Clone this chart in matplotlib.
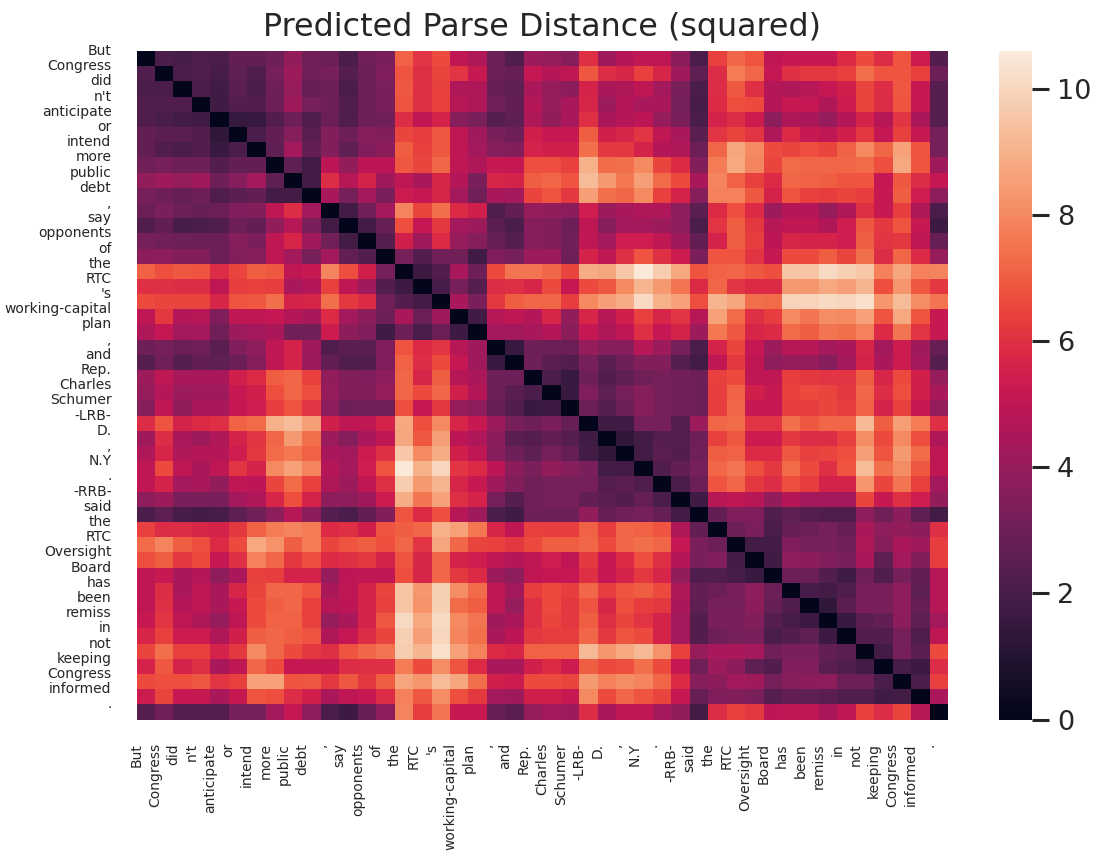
import matplotlib
matplotlib.use("Agg")
import matplotlib.pyplot as plt
import numpy as np
import seaborn as sns

tokens = ["But", "Congress", "did", "n't", "anticipate", "or", "intend", "more", "public", "debt",
          ",", "say", "opponents", "of", "the", "RTC", "'s", "working-capital", "plan", ",",
          "and", "Rep.", "Charles", "Schumer", "-LRB-", "D.", ",", "N.Y", ".", "-RRB-",
          "said", "the", "RTC", "Oversight", "Board", "has", "been", "remiss", "in", "not",
          "keeping", "Congress", "informed", "."]

# row by row
dist = [
    [0,2.1,2.0,2.2,2.1,2.7,2.7,3.0,3.9,3.1,2.9,2.1,3.1,3.3,7.1,6.1,6.6,5.0,4.6,2.9,2.2,4.1,4.0,3.6,6.0,4.2,4.7,5.0,5.0,3.7,2.1,6.4,7.2,6.8,5.0,5.2,5.2,5.2,5.8,6.6,5.9,6.8,5.3,2.3],
    [2.2,0,2.1,2.2,2.0,2.6,2.2,3.2,4.1,3.1,3.2,2.4,2.9,3.4,6.8,6.0,6.5,6.1,5.2,3.0,2.8,5.1,4.7,5.0,6.9,5.9,5.7,6.4,5.7,4.2,2.6,5.9,7.7,7.2,5.1,6.0,6.2,6.2,6.4,7.4,6.8,6.8,6.4,3.0],
    [2.1,2.1,0,2.1,1.8,2.5,2.1,3.0,4.0,2.8,2.9,2.1,2.9,3.3,6.9,6.0,6.4,4.6,4.6,2.8,2.6,4.5,4.0,3.7,5.6,4.5,4.6,5.0,4.3,3.3,2.1,5.9,6.9,6.0,4.7,4.6,4.8,5.1,5.5,6.5,5.9,6.9,5.2,2.4],
    [2.2,2.2,2.2,0,1.8,2.3,2.3,3.0,4.2,3.2,3.0,2.2,2.9,3.3,6.8,6.0,6.4,4.8,4.6,3.1,2.7,4.7,4.0,4.4,5.7,4.1,4.7,4.4,4.5,3.2,2.0,5.8,6.7,6.6,4.7,5.2,5.1,4.6,5.3,6.5,5.9,6.8,5.2,2.4],
    [2.2,2.1,1.9,1.8,0,1.5,1.6,2.3,3.0,2.2,2.9,2.2,3.0,3.1,5.9,5.0,5.6,3.6,3.3,2.4,2.6,4.6,3.9,4.4,6.0,4.5,4.7,4.9,4.0,3.3,2.1,5.6,5.9,5.3,3.8,4.6,4.5,4.0,4.7,5.6,4.8,6.1,4.5,2.4],
    [2.7,2.5,2.5,2.3,1.4,0,2.1,2.7,3.6,2.5,3.5,3.0,3.6,3.5,6.5,6.3,6.9,5.0,4.2,3.3,3.0,5.5,5.2,5.2,7.0,5.5,5.7,6.1,5.0,4.4,2.5,6.1,6.5,6.1,4.6,5.8,5.2,5.0,5.5,6.2,5.1,6.4,5.2,3.2],
    [2.7,2.2,2.1,2.3,1.6,2.1,0,2.6,4.3,2.7,3.5,2.6,3.4,3.7,7.0,6.4,6.9,5.0,4.3,3.6,3.5,5.6,5.5,5.5,7.4,6.2,6.2,5.6,4.7,4.6,3.0,7.2,8.7,8.0,6.6,6.5,6.7,6.5,7.1,8.0,7.2,8.6,6.8,3.2],
    [3.1,3.2,3.0,3.0,2.3,2.7,2.7,0,2.6,1.9,4.9,3.9,4.9,4.9,6.9,6.5,7.2,5.0,4.6,5.2,5.1,6.7,6.7,6.4,9.0,7.3,7.4,8.0,6.5,5.8,3.5,7.7,8.8,7.9,6.5,7.3,7.2,7.2,7.2,7.3,6.7,8.8,6.8,4.2],
    [3.9,4.2,4.0,4.2,3.0,3.6,4.3,2.6,0,1.9,5.9,4.8,5.6,4.2,5.0,4.4,5.7,4.7,3.3,5.7,5.6,7.0,7.2,6.8,9.3,8.4,7.6,8.5,7.3,6.6,4.4,7.9,7.1,6.4,5.8,7.2,7.1,7.0,6.8,6.8,5.1,6.9,5.9,5.1],
    [3.2,3.0,2.8,3.0,2.2,2.5,2.7,1.9,1.9,0,4.4,3.2,4.3,3.3,5.3,5.1,5.7,4.3,3.1,4.4,4.3,6.5,6.8,6.2,8.5,7.4,7.2,8.0,6.4,5.6,3.6,7.8,7.8,6.9,5.6,6.8,6.4,6.3,6.5,6.3,5.2,7.0,5.4,3.8],
    [2.9,3.3,2.9,2.8,2.9,3.4,3.5,5.0,5.9,4.3,0,1.9,3.1,4.3,7.9,6.5,7.4,5.8,5.5,2.2,2.7,4.0,3.9,3.7,5.4,4.1,4.4,4.6,4.6,3.8,2.5,5.8,6.7,5.8,4.1,4.7,4.7,4.0,4.6,6.0,5.2,6.3,4.6,2.1],
    [2.2,2.7,2.0,2.1,2.2,3.0,2.7,3.9,4.8,3.3,1.9,0,1.9,2.8,6.7,5.1,6.2,4.3,4.1,2.5,2.1,3.6,3.5,3.0,5.0,3.6,4.3,4.3,4.1,3.8,2.1,6.1,7.0,6.2,4.8,5.0,5.0,4.6,5.4,6.9,6.2,6.8,5.2,1.7],
    [3.2,3.1,3.0,2.9,2.9,3.6,3.3,5.0,5.7,4.2,3.1,1.9,0,2.4,5.5,4.2,5.8,4.0,3.6,2.8,2.4,3.6,3.5,3.1,5.0,4.3,5.4,5.4,5.0,4.2,2.7,5.6,7.0,6.3,4.9,5.7,5.6,5.6,5.4,7.0,6.1,6.2,5.0,2.8],
    [3.7,3.8,3.5,3.5,2.9,3.5,3.6,5.0,4.3,3.2,4.3,2.7,2.3,0,3.2,2.3,3.1,3.1,1.8,3.4,3.2,4.1,4.1,3.0,5.6,5.0,6.0,6.8,6.0,5.3,3.3,6.8,6.8,6.1,5.2,6.6,6.6,7.0,6.5,7.4,5.9,7.2,5.8,4.0],
    [7.1,6.7,6.9,6.8,5.9,6.5,7.0,6.9,5.0,5.2,7.9,6.7,5.5,3.2,0,1.7,2.3,4.4,3.0,6.6,7.5,7.5,7.2,6.5,8.9,8.7,9.6,10.5,9.7,8.8,6.8,7.1,7.2,6.9,6.7,9.5,9.5,10.1,9.8,9.6,7.8,8.7,7.8,7.9],
    [6.0,6.0,5.9,5.9,5.0,6.3,6.4,6.3,4.4,4.7,6.4,5.0,4.2,2.3,1.7,0,2.0,3.2,2.4,5.9,6.0,5.7,6.6,5.1,6.6,6.9,8.0,9.1,8.4,7.5,5.8,7.2,6.1,5.8,5.8,8.4,8.3,8.8,8.5,9.1,6.7,8.3,6.9,6.2],
    [6.6,6.5,6.5,6.5,5.7,6.8,6.9,7.4,5.6,5.7,7.4,6.2,5.8,3.1,2.3,1.9,0,4.4,3.3,6.2,7.0,7.2,7.2,6.3,8.0,8.5,8.9,10.1,9.0,8.6,6.7,9.1,8.7,7.4,7.3,9.9,9.9,10.1,10.0,10.3,8.3,9.3,8.1,7.5],
    [5.0,6.2,4.7,4.8,3.4,5.0,5.0,5.1,4.7,4.4,5.8,4.3,3.7,3.0,4.5,2.9,4.2,0,1.8,4.8,5.0,4.7,5.7,3.9,5.7,4.8,5.5,6.4,5.7,6.1,4.8,8.6,7.3,6.0,6.3,8.0,7.5,8.1,8.0,8.6,6.8,8.8,6.8,5.2],
    [4.6,5.1,4.3,4.3,3.1,4.1,4.3,4.5,3.1,3.1,5.3,3.7,3.4,1.8,3.0,2.1,2.9,1.7,0,4.3,4.3,4.4,4.7,3.7,5.1,4.6,5.0,6.0,5.1,5.6,4.1,7.6,6.9,5.7,5.8,7.3,7.0,7.5,7.4,7.8,5.8,7.5,6.1,5.2],
    [3.0,3.2,2.9,3.1,2.5,3.4,3.8,5.0,5.6,4.2,2.2,2.5,2.5,3.4,6.8,5.8,6.1,4.8,4.2,0,1.6,3.0,2.9,2.9,4.0,3.6,3.6,4.8,4.1,3.2,2.1,5.6,6.5,5.1,4.1,4.8,4.8,4.3,4.5,5.7,4.3,5.3,4.2,2.8],
    [2.4,3.1,2.4,2.7,2.6,2.9,3.6,5.0,5.6,4.1,2.7,2.2,2.3,3.4,7.1,5.9,6.6,5.1,4.2,1.6,0,3.0,2.5,2.3,3.2,2.5,3.0,3.5,3.5,2.4,1.9,5.0,6.2,5.0,3.8,4.0,4.0,3.6,4.3,5.6,4.5,5.3,4.3,2.4],
    [4.1,5.0,4.4,4.4,4.4,5.5,5.8,7.0,7.2,6.4,3.9,3.5,3.4,3.8,7.2,5.7,7.0,4.8,4.5,3.0,3.0,0,2.1,1.6,3.0,2.3,2.6,3.1,3.2,3.1,3.0,6.4,6.6,5.0,5.0,6.3,6.2,6.1,6.1,7.0,5.7,6.6,5.5,4.0],
    [4.0,4.7,4.1,4.2,4.2,5.2,5.5,6.7,7.2,6.7,4.0,3.5,3.5,4.0,7.2,6.6,7.2,5.5,4.7,3.0,2.5,2.1,0,1.6,3.4,2.6,3.2,3.6,3.2,3.1,3.0,6.3,7.1,5.5,5.2,6.4,6.6,6.5,6.2,7.2,5.9,6.7,5.5,4.4],
    [3.6,5.0,3.9,4.4,4.4,5.1,5.4,6.3,6.8,6.1,3.8,3.0,3.1,3.1,6.7,5.1,6.2,4.0,3.8,2.8,2.3,1.6,1.7,0,2.9,2.4,2.9,3.6,3.2,3.1,3.0,6.3,7.2,5.1,5.1,6.3,6.3,6.5,6.3,7.1,5.6,6.4,5.2,4.0],
    [5.9,6.8,5.6,5.8,6.0,7.1,7.3,9.0,9.3,8.5,5.5,5.0,5.0,5.6,8.8,6.7,8.0,5.7,5.2,4.1,3.2,3.0,3.3,2.8,0,1.8,1.8,3.2,3.2,2.4,4.1,7.2,7.3,6.1,6.1,7.4,6.9,7.2,7.2,9.2,7.0,8.5,7.7,6.0],
    [4.2,5.9,4.5,4.1,4.6,5.6,6.1,7.2,8.4,7.4,4.1,3.6,4.4,5.0,8.7,6.9,8.5,4.9,4.6,3.7,2.5,2.4,2.7,2.4,1.8,0,1.4,1.9,2.4,2.4,3.0,6.4,6.9,5.3,5.3,6.2,5.9,5.9,6.4,8.1,6.6,8.0,6.7,4.6],
    [4.6,5.7,4.6,4.7,4.7,5.4,6.2,7.3,7.6,7.1,4.4,4.3,5.3,6.0,9.6,8.0,8.9,5.5,5.0,3.6,3.0,2.6,3.2,2.8,1.9,1.4,0,1.9,2.5,2.3,3.1,7.0,7.1,5.8,5.8,6.9,6.4,6.5,6.7,8.5,6.8,8.4,7.3,5.0],
    [5.0,6.6,5.0,4.5,5.0,6.1,5.6,8.0,8.6,7.9,4.7,4.3,5.4,6.8,10.5,9.0,10.0,6.1,5.8,4.9,3.7,3.3,3.9,3.6,3.3,1.9,1.9,0,2.2,2.7,3.2,7.2,7.5,6.7,6.2,7.3,6.6,6.0,6.8,9.3,7.4,8.1,6.9,5.0],
    [5.0,5.6,4.3,4.4,3.9,5.0,4.9,6.5,7.3,6.4,4.6,4.1,5.0,6.0,9.7,8.4,9.1,5.7,5.2,4.2,3.5,3.1,3.2,3.2,3.2,2.4,2.5,2.2,0,2.1,2.9,6.8,7.2,6.2,5.9,6.7,6.3,5.6,5.6,8.3,6.5,7.5,6.4,4.3],
    [3.8,4.1,3.3,3.3,3.3,4.3,4.6,5.7,6.7,5.6,3.8,3.8,4.2,5.3,8.9,7.5,8.6,6.0,5.6,3.2,2.4,3.1,3.2,3.2,2.7,2.5,2.3,2.8,2.1,0,1.8,4.8,5.0,4.8,3.9,4.7,4.3,4.3,4.3,6.5,5.2,6.0,5.4,3.9],
    [2.1,2.6,2.0,1.9,2.0,2.6,3.1,3.8,4.8,3.7,2.4,2.1,2.7,3.5,6.8,5.8,6.7,4.8,4.2,2.1,1.8,3.0,3.0,3.0,3.9,2.8,3.1,3.2,2.8,1.9,0,2.7,3.4,3.4,2.2,2.6,2.4,2.2,2.2,3.8,3.1,3.7,2.6,1.9],
    [6.4,5.9,5.9,5.7,5.6,6.2,7.1,7.7,7.9,7.7,5.8,6.0,5.5,6.8,7.0,7.2,9.0,8.6,7.6,5.7,5.0,6.4,6.3,6.3,7.1,6.3,7.2,7.1,6.8,4.6,2.7,0,2.9,3.3,2.1,2.8,2.9,3.2,2.8,4.5,3.8,3.9,3.7,6.0],
    [7.3,7.9,7.0,6.7,5.8,6.6,8.8,8.2,7.0,7.7,6.5,6.8,7.0,6.7,7.2,6.1,8.7,7.2,6.5,6.4,6.2,6.6,7.0,7.0,7.2,6.6,7.2,7.4,7.2,5.1,3.3,2.9,0,1.9,1.9,3.4,3.2,3.2,3.1,4.6,3.6,4.5,4.2,6.3],
    [6.7,7.0,6.2,6.6,5.1,6.0,7.8,7.2,6.2,6.7,5.8,6.0,6.2,5.6,6.8,5.7,7.2,5.6,5.4,5.0,4.7,5.0,5.4,5.0,6.2,5.1,5.8,6.7,6.0,4.7,3.3,3.4,1.9,0,1.8,3.8,3.7,3.4,3.3,4.5,2.6,4.3,3.5,6.3],
    [5.0,5.2,4.5,4.7,3.8,4.5,6.4,6.3,5.6,5.6,4.0,4.9,5.0,5.0,6.7,5.7,7.2,6.2,5.8,4.1,3.8,5.0,5.1,5.1,6.0,5.1,5.6,6.2,5.7,3.9,2.2,2.2,2.0,1.6,0,2.9,2.9,2.3,1.8,3.0,2.2,3.2,2.7,4.8],
    [5.0,5.9,4.5,5.0,4.5,5.7,6.5,7.2,7.2,6.8,4.5,5.0,5.6,6.5,9.5,8.3,9.8,8.1,7.3,5.0,4.3,6.3,6.6,6.3,7.2,6.3,6.8,7.0,6.6,4.6,2.7,2.9,3.3,3.8,2.9,0,2.0,1.9,2.2,3.3,3.3,3.8,2.6,4.8],
    [5.0,6.0,4.7,5.0,4.5,5.2,6.6,7.0,7.2,6.4,4.8,4.9,5.6,6.4,9.5,8.2,9.8,7.3,7.0,5.0,4.0,6.0,6.6,6.2,6.8,5.7,6.7,6.3,6.2,4.5,2.6,3.2,3.2,3.7,2.8,2.2,0,1.4,2.5,3.3,3.3,3.8,2.8,4.8],
    [5.2,6.1,5.0,4.6,4.0,5.0,6.6,7.1,7.1,6.4,4.0,4.5,5.6,6.9,10.1,8.8,10.1,8.0,7.5,4.2,4.5,6.0,6.5,6.2,7.0,6.0,6.5,6.1,5.6,4.3,2.3,3.3,3.3,3.5,2.4,2.0,1.7,0,1.6,2.5,2.7,3.7,2.6,4.3],
    [5.7,6.4,5.3,5.3,4.6,5.5,7.0,7.2,7.0,6.8,4.6,5.1,5.9,6.5,9.8,8.5,10.0,7.9,7.4,4.5,4.9,6.2,6.3,6.3,7.2,6.2,6.8,6.6,5.6,4.3,2.3,3.0,3.2,3.3,2.1,2.3,2.6,1.7,0,2.3,2.3,3.2,2.2,5.0],
    [6.5,7.4,6.4,6.4,5.6,6.2,8.0,7.2,6.6,6.2,6.0,6.8,7.2,7.5,9.7,9.1,10.3,8.6,7.8,5.8,5.7,7.1,7.1,7.1,9.2,8.3,8.8,9.2,8.2,6.4,4.0,4.4,4.5,4.3,3.1,3.3,3.3,2.7,2.5,0,1.9,3.2,2.5,6.6],
    [5.6,6.9,5.6,6.0,4.4,5.0,7.2,6.6,5.1,5.2,5.2,5.9,6.0,6.0,7.7,6.6,8.1,6.8,5.8,4.4,4.4,5.5,5.8,5.3,7.0,6.6,6.7,7.4,6.6,5.1,3.1,4.1,3.7,2.6,2.3,3.4,3.4,2.5,2.2,1.9,0,2.0,1.7,5.9],
    [6.6,6.7,6.7,6.9,6.1,6.4,8.6,8.6,6.8,6.9,6.2,6.9,6.2,7.0,8.7,8.3,9.3,8.7,7.4,5.5,5.3,6.6,6.6,6.5,8.4,7.8,8.1,7.9,7.2,5.8,3.6,3.7,4.3,4.2,3.2,3.6,3.7,3.8,2.9,3.0,2.1,0,2.1,6.4],
    [5.3,6.5,5.2,5.2,4.4,5.2,6.8,6.7,5.9,5.5,4.5,5.0,5.2,5.9,7.8,6.9,8.1,6.7,6.2,4.3,4.2,5.5,5.5,5.2,8.0,6.6,7.2,6.8,6.5,5.1,2.8,3.4,3.5,3.3,2.4,2.7,2.6,2.5,2.2,2.2,1.8,1.9,0,4.5],
    [2.4,3.1,2.4,2.4,2.4,3.2,3.2,4.3,5.1,3.8,2.1,1.7,2.8,3.8,7.9,6.3,7.5,5.2,5.2,2.8,2.5,4.0,4.3,4.1,5.9,4.5,5.0,5.0,4.3,3.9,1.9,5.9,6.4,6.2,4.9,5.0,5.0,4.4,5.0,6.4,5.9,6.5,4.8,0],
]

sns.set(font_scale=2)

W, H = 1099, 857
fig = plt.figure(figsize=(W / 100, H / 100), dpi=100)
ax = fig.add_axes([136.5 / W, 1 - 719.5 / H, 811.5 / W, 668.5 / H])
cax = fig.add_axes([999 / W, 1 - 719.5 / H, 33 / W, 668.5 / H])

sns.heatmap(np.array(dist), ax=ax, cbar_ax=cax, vmin=0, vmax=10.6)
ax.set_title("Predicted Parse Distance (squared)", fontsize=22.85, pad=11)

# labels sit on whole numbers, not on cell centres
ax.set_xticks(range(len(tokens)))
ax.set_xticklabels(tokens, rotation=90, fontsize=10)
ax.set_yticks(range(len(tokens)))
ax.set_yticklabels(tokens, rotation=0, fontsize=10)
ax.tick_params(axis="x", length=0, pad=17)
ax.tick_params(axis="y", length=0, pad=18)

cax.set_yticks([0, 2, 4, 6, 8, 10])
cax.tick_params(axis="y", labelsize=19.5, length=12, width=2.2, pad=6, color=".15")

fig.savefig("out.png", dpi=100)
